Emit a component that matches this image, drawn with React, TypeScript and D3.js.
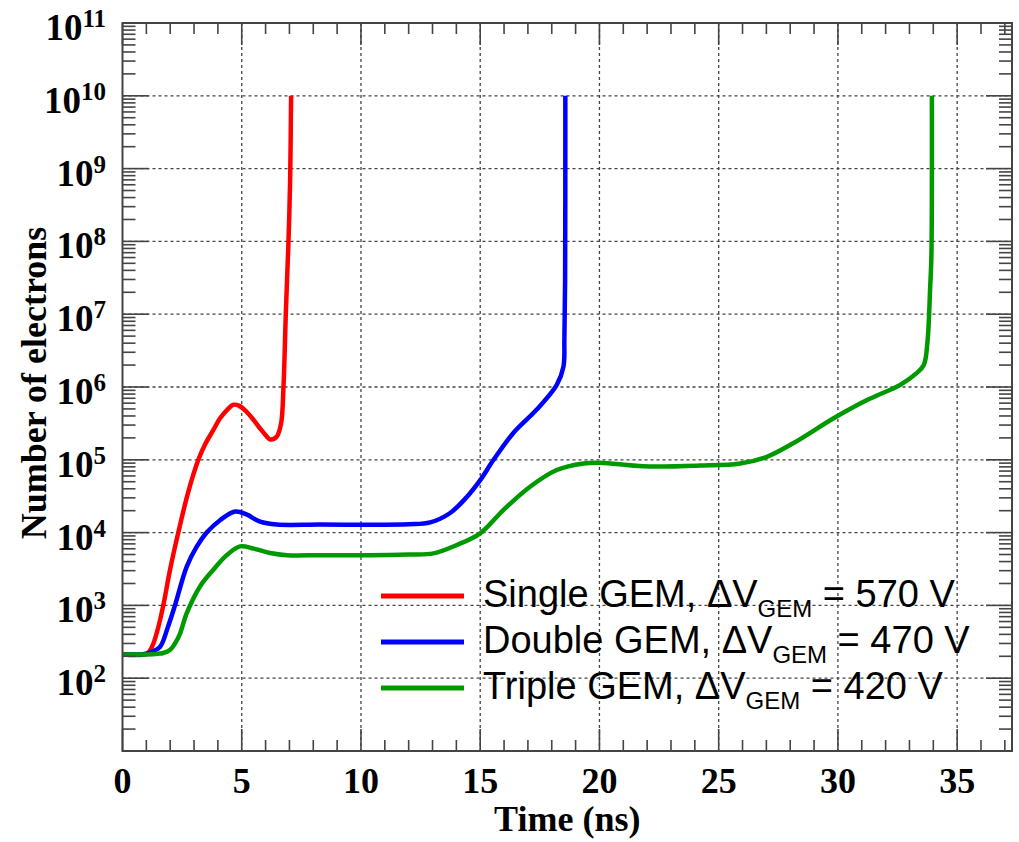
import React from "react";
import * as d3 from "d3";

// ---- data ----
const singleT = [0, 1.0, 1.15, 1.3, 1.5, 1.71, 2.0, 2.34, 2.75, 3.18, 3.45, 3.81, 4.09, 4.4, 4.65, 4.9, 5.2, 5.49, 5.77, 6.05, 6.19, 6.47, 6.65, 6.75, 6.85, 6.96, 7.03, 7.07];
const singleN = [212, 214, 240, 302, 501, 1000, 3160, 1e4, 3.55e4, 1e5, 1.6e5, 2.57e5, 3.72e5, 4.9e5, 5.7e5, 5.5e5, 4.57e5, 3.55e5, 2.69e5, 2.09e5, 1.9e5, 2.09e5, 3.16e5, 1e6, 1.05e7, 1e8, 7.1e8, 1e10];

const doubleT = [0, 0.86, 1.2, 1.57, 1.9, 2.2, 2.69, 3.1, 3.53, 4.09, 4.72, 5.2, 5.77, 6.47, 8.28, 12.0, 12.9, 13.74, 14.44, 15.0, 15.56, 16.39, 17.37, 18.21, 18.49, 18.53, 18.56, 18.57];
const doubleN = [212, 214, 229, 269, 501, 1000, 3390, 6310, 1e4, 1.48e4, 1.95e4, 1.78e4, 1.41e4, 1.29e4, 1.29e4, 1.3e4, 1.38e4, 1.86e4, 3.09e4, 5.25e4, 1e5, 2.34e5, 4.9e5, 1.07e6, 1.9e6, 4.47e6, 2.95e7, 1e10];

const tripleT = [0, 1.28, 1.5, 1.71, 2.0, 2.2, 2.41, 2.69, 3.25, 3.81, 4.37, 4.93, 5.5, 6.19, 6.89, 8.28, 10, 12, 13.04, 14.02, 15.0, 15.97, 17.09, 18.21, 19.33, 20.03, 21.85, 24.2, 25.9, 27.02, 28.14, 29.82, 31.22, 32.61, 33.3, 33.6, 33.75, 33.87, 33.92, 33.94];
const tripleN = [212, 214, 217, 222, 245, 300, 407, 776, 1820, 3090, 4900, 6460, 6030, 5250, 4900, 4900, 4900, 5010, 5190, 6760, 9770, 2.04e4, 4.27e4, 7.24e4, 8.91e4, 9.12e4, 8.13e4, 8.32e4, 8.91e4, 1.1e5, 1.7e5, 3.72e5, 6.61e5, 1.07e6, 1.55e6, 2.0e6, 3.98e6, 2.4e7, 6.3e7, 1e10];

const seriesNames = ["Single GEM, ", "Double GEM, ", "Triple GEM, "];
const seriesVoltages = ["570 V", "470 V", "420 V"];
const seriesColors = ["#ff0000", "#0000ff", "#009a00"];

const xMajorTicks = [0, 5, 10, 15, 20, 25, 30, 35];
const yExponents = [1, 2, 3, 4, 5, 6, 7, 8, 9, 10, 11];

const xTitle = "Time (ns)";
const yTitle = "Number of electrons";

export default function App() {
  const W = 1019, H = 842;
  const L = 122.5, R = 1012, T = 23, B = 751;
  const x = d3.scaleLinear().domain([0, 37.3]).range([L, R]);
  const y = d3.scaleLog().domain([10, 1e11]).range([B, T]);

  const series = [
    { t: singleT, n: singleN },
    { t: doubleT, n: doubleN },
    { t: tripleT, n: tripleN },
  ];
  const line = d3
    .line<[number, number]>()
    .x((d) => x(d[0]))
    .y((d) => y(d[1]))
    .curve(d3.curveCatmullRom.alpha(0.5));

  const xMinor = d3.range(0, 38).filter((v) => v % 5 !== 0);
  const yMinor: number[] = [];
  for (let k = 1; k <= 10; k++) for (let m = 2; m <= 9; m++) yMinor.push(m * Math.pow(10, k));

  const serif = "'Liberation Serif', 'Times New Roman', serif";
  const sans = "'Liberation Sans', Arial, sans-serif";
  const axisColor = "#444";

  return (
    <svg width={W} height={H} style={{ position: "absolute", left: 0, top: 0, background: "#fff" }}>
      <defs>
        <clipPath id="plot">
          <rect x={L} y={T} width={R - L} height={B - T} />
        </clipPath>
      </defs>
      {/* grid */}
      <g stroke="#444" strokeWidth={1.3} strokeDasharray="3,3">
        {xMajorTicks.filter((v) => v > 0).map((v) => (
          <line key={"gx" + v} x1={x(v)} x2={x(v)} y1={T} y2={B} />
        ))}
        {yExponents.slice(1, -1).map((k) => (
          <line key={"gy" + k} x1={L} x2={R} y1={y(Math.pow(10, k))} y2={y(Math.pow(10, k))} />
        ))}
      </g>
      {/* curves */}
      <g clipPath="url(#plot)" fill="none" strokeWidth={4.5} strokeLinejoin="round">
        {series.map((s, i) => (
          <path
            key={i}
            d={line(s.t.map((t, j) => [t, s.n[j]] as [number, number])) || ""}
            stroke={seriesColors[i]}
          />
        ))}
      </g>
      {/* ticks */}
      <g stroke={axisColor} strokeWidth={1.6}>
        {xMajorTicks.map((v) => (
          <g key={"xt" + v}>
            <line x1={x(v)} x2={x(v)} y1={B} y2={B - 22} />
            <line x1={x(v)} x2={x(v)} y1={T} y2={T + 22} />
          </g>
        ))}
        {xMinor.map((v) => (
          <g key={"xm" + v}>
            <line x1={x(v)} x2={x(v)} y1={B} y2={B - 11} />
            <line x1={x(v)} x2={x(v)} y1={T} y2={T + 11} />
          </g>
        ))}
        {yExponents.map((k) => (
          <g key={"yt" + k}>
            <line x1={L} x2={L + 26} y1={y(Math.pow(10, k))} y2={y(Math.pow(10, k))} />
            <line x1={R} x2={R - 26} y1={y(Math.pow(10, k))} y2={y(Math.pow(10, k))} />
          </g>
        ))}
        {yMinor.map((v) => (
          <g key={"ym" + v}>
            <line x1={L} x2={L + 13} y1={y(v)} y2={y(v)} />
            <line x1={R} x2={R - 13} y1={y(v)} y2={y(v)} />
          </g>
        ))}
      </g>
      {/* frame */}
      <rect x={L} y={T} width={R - L} height={B - T} fill="none" stroke={axisColor} strokeWidth={2} />
      {/* x tick labels */}
      <g fontFamily={serif} fontWeight="bold" fontSize={36} textAnchor="middle" fill="#000">
        {xMajorTicks.map((v) => (
          <text key={"xl" + v} x={x(v)} y={793}>
            {v}
          </text>
        ))}
      </g>
      {/* y tick labels */}
      <g fontFamily={serif} fontWeight="bold" fill="#000">
        {yExponents.slice(1).map((k) => (
          <text key={"yl" + k} x={106} y={y(Math.pow(10, k)) + 17} textAnchor="end" fontSize={37}>
            <tspan>10</tspan>
            <tspan dy={-13} fontSize={25}>
              {k}
            </tspan>
          </text>
        ))}
      </g>
      {/* axis titles */}
      <text x={(L + R) / 2} y={831} textAnchor="middle" fontFamily={serif} fontWeight="bold" fontSize={36}>
        {xTitle}
      </text>
      <text
        transform={`translate(46, ${(T + B) / 2 - 4}) rotate(-90)`}
        textAnchor="middle"
        fontFamily={serif}
        fontWeight="bold"
        fontSize={36}
      >
        {yTitle}
      </text>
      {/* legend */}
      <g fontFamily={sans} fill="#000">
        {seriesNames.map((name, i) => {
          const ly = 596 + i * 46;
          return (
            <g key={"lg" + i}>
              <line x1={381} x2={464} y1={ly} y2={ly} stroke={seriesColors[i]} strokeWidth={5} />
              <text x={483} y={ly + 11} fontSize={38}>
                <tspan>{name}</tspan>
                <tspan>{"\u0394V"}</tspan>
                <tspan dy={10} fontSize={24}>GEM</tspan>
                <tspan dy={-10}>{" = " + seriesVoltages[i]}</tspan>
              </text>
            </g>
          );
        })}
      </g>
    </svg>
  );
}
